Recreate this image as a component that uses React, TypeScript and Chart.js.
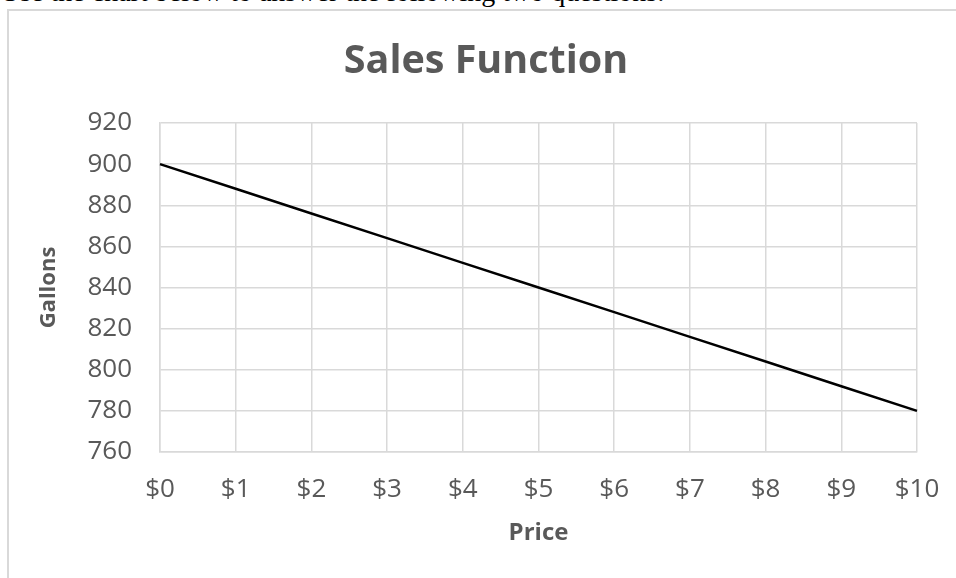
import React, { useEffect, useRef } from "react";
import { Chart, registerables } from "chart.js";

Chart.register(...registerables);

const priceLabels = ["$0", "$1", "$2", "$3", "$4", "$5", "$6", "$7", "$8", "$9", "$10"];
const gallons = [900, 888, 876, 864, 852, 840, 828, 816, 804, 792, 780];
const yMin = 760;
const yMax = 920;
const yStep = 20;
const chartTitle = "Sales Function";
const xTitle = "Price";
const yTitle = "Gallons";
const introText = "Use the chart below to answer the following two questions:";

const FONT = "'Open Sans', sans-serif";
const TEXT_GRAY = "#595959";
const GRID = "#d9d9d9";

export default function App() {
  const ref = useRef<HTMLCanvasElement | null>(null);

  useEffect(() => {
    if (!ref.current) return;
    const chart = new Chart(ref.current, {
      type: "line",
      data: {
        labels: priceLabels,
        datasets: [
          {
            data: gallons,
            borderColor: "#000000",
            borderWidth: 2.5,
            pointRadius: 0,
            tension: 0,
            fill: false,
          },
        ],
      },
      options: {
        responsive: false,
        animation: false,
        devicePixelRatio: 1,
        layout: { padding: { left: 55, right: 39, top: 0, bottom: 0 } },
        plugins: {
          legend: { display: false },
          tooltip: { enabled: false },
          title: {
            display: true,
            text: chartTitle,
            color: TEXT_GRAY,
            font: { family: FONT, size: 39.5, weight: "bold", lineHeight: 1.2 },
            padding: { top: 38.5, bottom: 37.1 },
          },
        },
        scales: {
          x: {
            type: "category",
            offset: false,
            afterFit: (s: any) => {
              s.height = 126;
              s.paddingLeft = 0;
              s.paddingRight = 0;
            },
            grid: { color: GRID, lineWidth: 1.5, drawTicks: false },
            border: { color: GRID, width: 1.5 },
            ticks: {
              color: TEXT_GRAY,
              font: { family: FONT, size: 26 },
              padding: 22,
              maxRotation: 0,
              autoSkip: false,
            },
            title: {
              display: true,
              text: xTitle,
              color: TEXT_GRAY,
              font: { family: FONT, size: 24, weight: "bold", lineHeight: 1.2 },
              padding: { top: 30.6, bottom: 30.6 },
            },
          },
          y: {
            min: yMin,
            max: yMax,
            afterFit: (s: any) => {
              s.width = 105;
              s.paddingTop = 0;
              s.paddingBottom = 0;
            },
            grid: { color: GRID, lineWidth: 1.5, drawTicks: false },
            border: { color: GRID, width: 1.5 },
            ticks: {
              stepSize: yStep,
              color: TEXT_GRAY,
              font: { family: FONT, size: 26 },
              padding: 28,
            },
            title: {
              display: true,
              text: yTitle,
              color: TEXT_GRAY,
              font: { family: FONT, size: 22, weight: "bold", lineHeight: 1.2 },
              padding: { top: -19, bottom: -19 },
            },
          },
        },
      },
    });
    return () => chart.destroy();
  }, []);

  return (
    <div
      style={{
        position: "absolute",
        left: 0,
        top: 0,
        width: 956,
        height: 578,
        overflow: "hidden",
        background: "#ffffff",
      }}
    >
      <div
        style={{
          position: "absolute",
          left: 0,
          top: -22,
          fontFamily: "'Liberation Serif', serif",
          fontSize: 28,
          lineHeight: "28px",
          whiteSpace: "nowrap",
          color: "#000",
        }}
      >
        {introText}
      </div>
      <div
        style={{
          position: "absolute",
          left: 7,
          top: 9,
          width: 1000,
          height: 1000,
          border: "2px solid #d9d9d9",
          boxSizing: "border-box",
        }}
      />
      <canvas
        ref={ref}
        width={956}
        height={578}
        style={{ position: "absolute", left: 0, top: 0, width: 956, height: 578 }}
      />
    </div>
  );
}
